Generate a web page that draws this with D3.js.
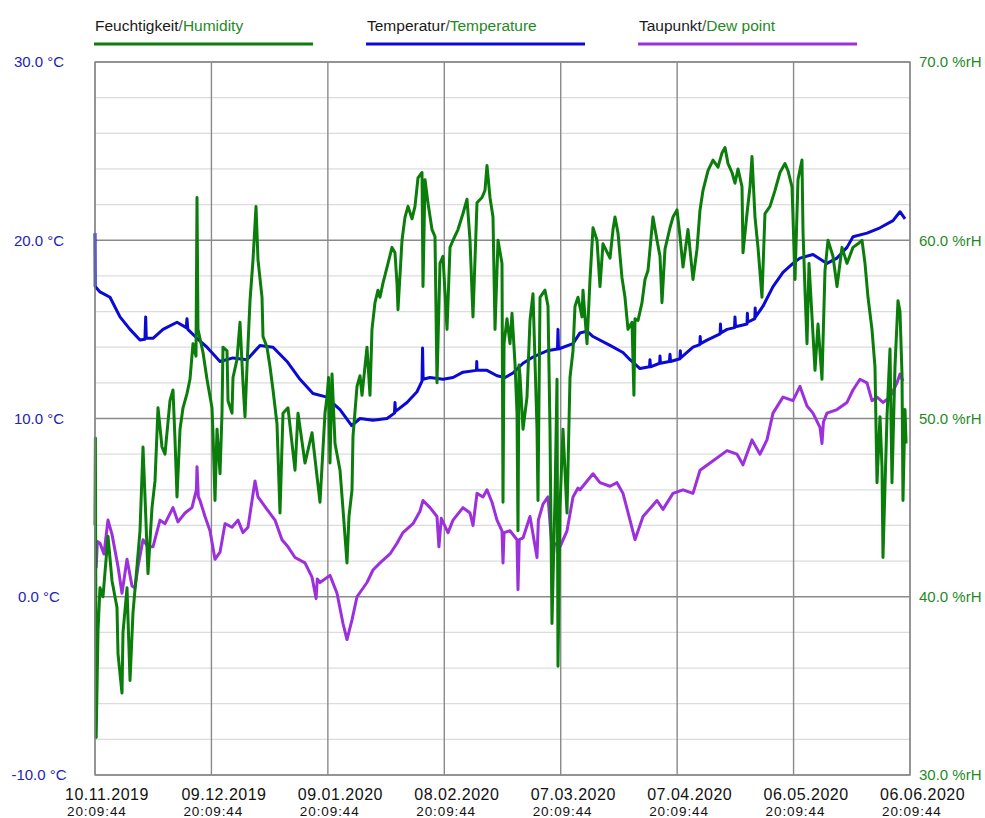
<!DOCTYPE html>
<html>
<head>
<meta charset="utf-8">
<script src="https://cdn.jsdelivr.net/npm/d3@7"></script>
<style>
  html, body { margin: 0; padding: 0; background: #fff; }
  svg { display: block; font-family: Arial, "Liberation Sans", sans-serif; }
</style>
</head>
<body>
<svg id="chart" width="985" height="818"></svg>
<script>
// Logger export 10.11.2019 20:09:44 – 06.06.2020 20:09:44, time as days since start
const spanDays = 209;
const tickDates = ["10.11.2019", "09.12.2019", "09.01.2020", "08.02.2020", "07.03.2020", "07.04.2020", "06.05.2020", "06.06.2020"];
const tickTimes = ["20:09:44", "20:09:44", "20:09:44", "20:09:44", "20:09:44", "20:09:44", "20:09:44", "20:09:44"];
const tempTicks = [-10, 0, 10, 20, 30];
const humTicks = [30, 40, 50, 60, 70];

// Temperature [day, °C]
const temperature = [
  [0, 20.4], [0.05, 17.4], [1.28, 17.1], [3.85, 16.8], [6.41, 15.7], [8.98, 15.0], [11.54, 14.4],
  [12.8, 14.45], [13.0, 15.7], [13.15, 14.5], [14.87, 14.5], [17.44, 15.0], [21.03, 15.4],
  [23.4, 15.1], [23.59, 15.6], [23.8, 15.0], [26.16, 14.5], [28.72, 14.0], [32.06, 13.2],
  [35.39, 13.4], [38.98, 13.3], [42.31, 14.1], [45.65, 14.0], [49.24, 13.2], [52.57, 12.2],
  [55.9, 11.4], [59.49, 11.2], [60.26, 11.0], [62.83, 10.5], [65.83, 9.6], [67.96, 10.0],
  [71.29, 9.9], [74.88, 10.0], [76.8, 10.3], [76.93, 10.9], [77.06, 10.4], [80.01, 10.9],
  [82.57, 11.5], [83.86, 12.1], [84.0, 13.95], [84.15, 12.2], [85.91, 12.3], [89.24, 12.2],
  [91.81, 12.3], [94.37, 12.6], [97.83, 12.7], [97.9, 13.2], [97.96, 12.7], [100.52, 12.7],
  [103.09, 12.4], [105.14, 12.3], [107.19, 12.55], [109.76, 13.1], [112.32, 13.45],
  [115.91, 13.8], [118.6, 13.9], [118.73, 15.0], [118.86, 13.9], [122.58, 14.2], [124.37, 14.8],
  [126.17, 14.9], [127.71, 14.6], [132.07, 14.1], [135.4, 13.7], [137.2, 13.3], [139.76, 12.8],
  [142.2, 12.9], [142.32, 13.3], [142.45, 12.9], [144.8, 13.1], [144.89, 13.5], [145.0, 13.1],
  [147.3, 13.2], [147.45, 13.6], [147.6, 13.2], [150.0, 13.35], [150.1, 13.8], [150.2, 13.4],
  [153.35, 14.0], [155.1, 14.15], [155.2, 14.6], [155.3, 14.2], [156.95, 14.4],
  [160.3, 14.75], [160.4, 15.3], [160.5, 14.8], [162.07, 15.0], [164.0, 15.1], [164.12, 15.7],
  [164.25, 15.15], [166.17, 15.25], [167.2, 15.3], [167.3, 15.9], [167.4, 15.4],
  [169.2, 15.6], [169.3, 16.2], [169.4, 15.7], [171.3, 16.3], [173.87, 17.4], [176.43, 18.2],
  [178.99, 18.7], [180.79, 19.0], [184.12, 19.2], [187.71, 18.7], [190.28, 19.0],
  [192.84, 19.6], [194.38, 20.2], [197.97, 20.4], [201.31, 20.7], [204.64, 21.1],
  [206.43, 21.6], [207.72, 21.2]
];

// Dew point [day, °C]
const dewPoint = [
  [0.3, 1.6], [0.6, 3.1], [1.28, 3.0], [2.3, 2.4], [3.33, 4.3], [4.36, 3.5], [5.9, 1.7],
  [6.92, 0.2], [8.21, 2.1], [9.49, 0.6], [10.26, 0.5], [11.03, 1.7], [12.31, 3.2], [13.59, 2.8],
  [14.87, 2.8], [16.67, 4.3], [17.95, 4.1], [20.0, 5.0], [21.28, 4.2], [23.08, 4.7],
  [24.87, 5.0], [26.0, 6.0], [26.16, 7.3], [26.5, 5.6], [26.93, 5.4], [28.21, 4.5], [29.49, 3.7],
  [30.77, 2.1], [32.06, 2.5], [33.34, 4.1], [35.13, 3.9], [36.67, 4.3], [37.95, 3.6],
  [39.24, 3.9], [41.03, 6.5], [41.8, 5.6], [44.11, 4.9], [46.16, 4.3], [47.95, 3.2],
  [49.49, 2.8], [51.29, 2.2], [53.85, 1.9], [55.65, 1.1], [56.7, -0.1], [57.0, 1.0],
  [57.7, 0.8], [60.26, 1.2], [62.06, 0.2], [63.6, -1.5], [64.62, -2.4], [65.91, -1.3],
  [67.19, 0.0], [69.75, 0.8], [71.29, 1.5], [73.09, 1.9], [75.65, 2.4], [77.44, 3.0],
  [78.98, 3.6], [81.55, 4.1], [83.34, 4.8], [84.11, 5.4], [85.91, 5.0], [87.7, 4.5],
  [88.2, 2.8], [88.8, 4.4], [90.53, 3.6], [91.81, 4.3], [94.37, 5.0], [96.17, 4.7],
  [96.93, 4.0], [97.96, 5.8], [99.5, 5.6], [100.52, 6.0], [101.81, 5.3], [103.09, 4.3],
  [104.37, 3.7], [104.63, 1.9], [104.9, 3.6], [106.42, 3.7], [108.22, 3.2], [108.47, 0.4],
  [108.8, 3.2], [109.76, 3.3], [111.55, 4.5], [113.35, 2.2], [113.7, 4.3], [114.89, 5.2],
  [116.17, 5.6], [117.45, 2.0], [117.8, 3.0], [119.24, 2.8], [121.04, 3.7], [122.58, 5.6],
  [123.86, 6.1], [124.37, 6.0], [127.71, 6.9], [129.5, 6.4], [132.07, 6.2], [133.86, 6.4],
  [135.4, 5.8], [137.2, 4.3], [138.48, 3.2], [140.53, 4.5], [144.12, 5.4], [145.66, 4.9],
  [148.22, 5.8], [150.79, 6.0], [153.35, 5.8], [155.15, 7.1], [157.72, 7.5], [162.07, 8.2],
  [164.64, 8.0], [166.17, 7.4], [168.48, 8.8], [170.53, 8.0], [172.32, 8.8], [173.87, 10.3],
  [176.43, 11.2], [178.99, 11.0], [180.79, 11.8], [182.59, 10.7], [184.12, 10.3],
  [185.92, 9.5], [186.43, 8.6], [186.8, 9.8], [187.71, 10.3], [190.28, 10.5], [192.84, 10.9],
  [194.38, 11.6], [196.17, 12.2], [197.97, 12.0], [199.25, 11.0], [200.54, 11.2],
  [202.07, 10.9], [203.87, 11.2], [205.67, 12.0], [206.43, 12.5], [207.2, 12.1]
];

// Relative humidity [day, %rH]
const humidity = [
  [0, 44.0], [0.1, 48.9], [0.3, 32.1], [0.77, 38.1], [1.28, 40.5], [2.05, 40.0], [3.33, 43.4],
  [4.36, 40.9], [5.64, 39.4], [5.9, 36.8], [6.92, 34.6], [7.18, 38.0], [8.21, 40.5],
  [8.98, 35.3], [9.74, 39.1], [10.77, 41.7], [11.54, 43.7], [12.31, 48.4], [12.82, 45.6],
  [13.59, 41.3], [14.62, 45.0], [15.39, 46.5], [16.16, 50.6], [17.18, 48.4], [17.95, 48.0],
  [19.23, 51.0], [20.0, 51.6], [20.52, 48.8], [21.03, 45.6], [21.8, 49.4], [22.57, 50.6],
  [23.59, 51.4], [24.36, 52.2], [25.13, 54.2], [25.9, 53.5], [26.16, 62.4], [26.41, 55.0],
  [27.7, 53.7], [28.72, 52.2], [30.0, 50.6], [30.26, 49.2], [30.77, 45.4], [31.29, 49.4],
  [32.06, 46.9], [32.57, 50.3], [32.82, 54.0], [33.85, 53.8], [34.11, 51.0], [35.13, 50.3],
  [35.39, 52.3], [36.41, 53.3], [37.18, 55.4], [37.95, 52.0], [38.46, 50.1], [38.98, 52.9],
  [39.75, 56.6], [40.52, 58.9], [41.29, 61.9], [41.8, 58.9], [42.83, 56.8], [43.08, 54.6],
  [44.11, 54.0], [44.88, 52.9], [45.65, 51.6], [46.67, 49.7], [47.44, 44.7], [48.21, 50.3],
  [49.49, 50.6], [51.29, 47.1], [52.06, 50.3], [53.85, 47.5], [55.65, 49.2], [57.7, 45.3],
  [58.98, 50.3], [59.49, 51.2], [59.9, 52.3], [60.26, 47.5], [60.78, 52.5], [61.55, 48.6],
  [62.83, 47.1], [63.6, 44.9], [64.62, 41.9], [65.13, 44.5], [65.91, 46.0], [66.16, 49.0],
  [67.19, 51.8], [67.96, 52.4], [68.47, 51.3], [69.75, 54.0], [70.52, 51.3], [71.03, 55.0],
  [71.8, 56.5], [72.57, 57.2], [73.09, 56.8], [73.85, 57.6], [75.14, 58.7], [76.16, 59.6],
  [76.93, 59.3], [77.44, 57.6], [77.7, 56.1], [78.73, 60.0], [79.5, 61.3], [80.27, 61.9],
  [81.29, 61.2], [82.06, 61.9], [82.83, 63.5], [83.86, 63.8], [84.11, 57.4], [84.63, 63.4],
  [85.39, 62.1], [86.42, 60.6], [87.19, 60.2], [87.7, 52.0], [88.47, 58.7], [89.24, 59.1],
  [90.27, 55.0], [91.04, 59.6], [91.81, 60.0], [93.09, 60.6], [94.37, 61.5], [95.4, 62.3],
  [96.17, 60.0], [96.93, 55.7], [97.96, 62.1], [99.24, 62.4], [100.01, 62.8], [100.52, 64.2],
  [101.29, 62.4], [102.06, 61.3], [102.58, 55.0], [103.35, 60.0], [104.37, 58.7],
  [104.63, 45.3], [104.9, 54.2], [105.65, 55.6], [106.42, 54.2], [106.94, 55.9], [107.7, 53.1],
  [108.22, 50.3], [108.47, 43.7], [108.73, 53.0], [108.99, 52.4], [109.76, 49.4],
  [110.78, 51.2], [111.55, 55.5], [112.32, 57.0], [113.35, 49.4], [113.6, 45.4], [114.12, 56.8],
  [115.4, 57.2], [116.17, 56.3], [116.68, 49.4], [117.19, 38.5], [117.96, 45.5], [118.48, 52.2],
  [118.73, 36.1], [119.24, 45.0], [119.76, 48.0], [120.01, 49.4], [121.04, 44.7], [121.81, 52.3],
  [122.58, 53.8], [123.09, 56.3], [123.86, 56.8], [124.89, 55.7], [125.14, 57.2], [126.17, 54.2],
  [126.94, 57.8], [127.71, 60.7], [128.73, 60.0], [129.5, 57.4], [130.27, 59.8], [132.07, 59.0],
  [132.84, 60.6], [133.35, 61.3], [134.12, 60.4], [135.14, 57.9], [135.91, 56.8], [136.68, 55.0],
  [137.71, 55.4], [138.2, 51.3], [138.48, 55.6], [139.25, 55.5], [140.27, 56.5], [141.04, 57.8],
  [141.81, 58.3], [143.09, 61.3], [144.12, 60.0], [144.89, 59.1], [145.4, 56.5], [146.17, 59.5],
  [147.45, 60.7], [148.22, 61.3], [149.25, 61.7], [150.02, 60.2], [150.79, 58.5], [152.07, 60.6],
  [153.35, 57.8], [154.38, 59.5], [155.15, 61.7], [155.92, 62.8], [157.2, 63.9], [158.48, 64.5],
  [159.77, 64.1], [160.79, 64.9], [161.56, 65.2], [162.33, 64.3], [163.36, 63.8], [164.12, 63.2],
  [164.89, 64.0], [165.92, 63.0], [166.17, 59.3], [167.2, 61.5], [167.97, 63.0], [168.48, 64.7],
  [169.25, 61.3], [170.02, 59.6], [171.04, 56.8], [171.81, 61.5], [173.1, 61.9], [174.38, 62.8],
  [175.66, 63.8], [176.94, 64.3], [177.71, 63.9], [178.74, 63.0], [179.51, 57.8], [180.28, 63.4],
  [181.3, 64.5], [181.56, 60.5], [182.07, 57.2], [182.59, 54.2], [183.1, 58.7], [183.87, 55.7],
  [184.64, 52.7], [185.41, 55.3], [186.43, 52.2], [187.2, 58.3], [187.97, 60.0], [189.25, 59.1],
  [190.28, 57.4], [191.56, 59.6], [192.84, 58.7], [194.38, 59.6], [195.66, 59.8], [196.69, 60.0],
  [197.46, 58.7], [198.23, 56.8], [199.25, 55.0], [200.02, 52.9], [200.54, 46.4], [201.31, 50.1],
  [201.82, 47.3], [202.07, 42.2], [203.1, 50.1], [203.87, 53.9], [204.38, 46.4], [205.15, 52.9],
  [205.92, 56.6], [206.43, 56.0], [206.95, 52.5], [207.2, 45.4], [207.72, 50.5], [208.0, 48.6]
];

const colors = { hum: "#0b7d0b", temp: "#0a0ad4", dew: "#9b30dc" };

const svg = d3.select("#chart");
const plotLeft = 95, plotRight = 910, plotTop = 62, plotBottom = 775;

const x = d3.scaleLinear().domain([0, spanDays]).range([plotLeft, plotRight]);
const yT = d3.scaleLinear().domain([-10, 30]).range([plotBottom, plotTop]);
const yH = d3.scaleLinear().domain([30, 70]).range([plotBottom, plotTop]);
const tickDays = tickDates.map((d, i) => i * spanDays / (tickDates.length - 1));

// grid: light lines every 2 °C, darker at every 10 °C and at each date tick
const grid = svg.append("g");
grid.selectAll("line.minor").data(d3.range(-10, 31, 2).filter(v => v % 10 !== 0)).join("line")
  .attr("x1", plotLeft).attr("x2", plotRight)
  .attr("y1", d => yT(d)).attr("y2", d => yT(d))
  .attr("stroke", "#dcdcdc").attr("stroke-width", 1.2);
grid.selectAll("line.major").data(tempTicks).join("line")
  .attr("x1", plotLeft).attr("x2", plotRight)
  .attr("y1", d => yT(d)).attr("y2", d => yT(d))
  .attr("stroke", "#8a8a8a").attr("stroke-width", 1.4);
grid.selectAll("line.vert").data(tickDays).join("line")
  .attr("x1", d => x(d)).attr("x2", d => x(d))
  .attr("y1", plotTop).attr("y2", plotBottom)
  .attr("stroke", "#8a8a8a").attr("stroke-width", 1.4);

// series
const lineT = d3.line().x(d => x(d[0])).y(d => yT(d[1]));
const lineH = d3.line().x(d => x(d[0])).y(d => yH(d[1]));
const plot = svg.append("g");
plot.append("path").datum(temperature).attr("d", lineT)
  .attr("fill", "none").attr("stroke", colors.temp).attr("stroke-width", 3).attr("stroke-linejoin", "round");
plot.append("path").datum(dewPoint).attr("d", lineT)
  .attr("fill", "none").attr("stroke", colors.dew).attr("stroke-width", 3).attr("stroke-linejoin", "round");
plot.append("path").datum(humidity).attr("d", lineH)
  .attr("fill", "none").attr("stroke", colors.hum).attr("stroke-width", 3).attr("stroke-linejoin", "round");

// left axis (°C)
svg.append("g").selectAll("text").data(tempTicks).join("text")
  .attr("x", 39).attr("y", d => yT(d)).attr("dy", "0.36em")
  .attr("text-anchor", "middle").attr("font-size", 15).attr("fill", "#2323b4")
  .text(d => d.toFixed(1) + " °C");

// right axis (%rH)
svg.append("g").selectAll("text").data(humTicks).join("text")
  .attr("x", 919).attr("y", d => yH(d)).attr("dy", "0.36em")
  .attr("text-anchor", "start").attr("font-size", 15).attr("fill", "#1f8a1f")
  .text(d => d.toFixed(1) + " %rH");

// bottom axis: date + time
const xAxis = svg.append("g");
xAxis.selectAll("text.date").data(tickDays).join("text")
  .attr("x", d => x(d) - 30).attr("y", 800)
  .attr("font-size", 16).attr("letter-spacing", 0.5).attr("fill", "#111")
  .text((d, i) => tickDates[i]);
xAxis.selectAll("text.time").data(tickDays).join("text")
  .attr("x", d => x(d) - 28).attr("y", 816)
  .attr("font-size", 13.5).attr("letter-spacing", 0.9).attr("fill", "#111")
  .text((d, i) => tickTimes[i]);

// legend
const legend = [
  { de: "Feuchtigkeit", en: "Humidity", color: colors.hum, x0: 94, x1: 313 },
  { de: "Temperatur", en: "Temperature", color: colors.temp, x0: 366, x1: 585 },
  { de: "Taupunkt", en: "Dew point", color: colors.dew, x0: 638, x1: 857 }
];
const lg = svg.append("g").selectAll("g").data(legend).join("g");
const lt = lg.append("text").attr("x", d => d.x0 + 1).attr("y", 31).attr("font-size", 15.5);
lt.append("tspan").attr("fill", "#1a1a1a").text(d => d.de);
lt.append("tspan").attr("fill", "#555").text("/");
lt.append("tspan").attr("fill", "#1f8a1f").text(d => d.en);
lg.append("line").attr("x1", d => d.x0).attr("x2", d => d.x1).attr("y1", 44).attr("y2", 44)
  .attr("stroke", d => d.color).attr("stroke-width", 3);

// frame
svg.append("rect").attr("x", plotLeft).attr("y", plotTop)
  .attr("width", plotRight - plotLeft).attr("height", plotBottom - plotTop)
  .attr("fill", "none").attr("stroke", "#8a8a8a").attr("stroke-width", 1.4);
</script>
</body>
</html>
